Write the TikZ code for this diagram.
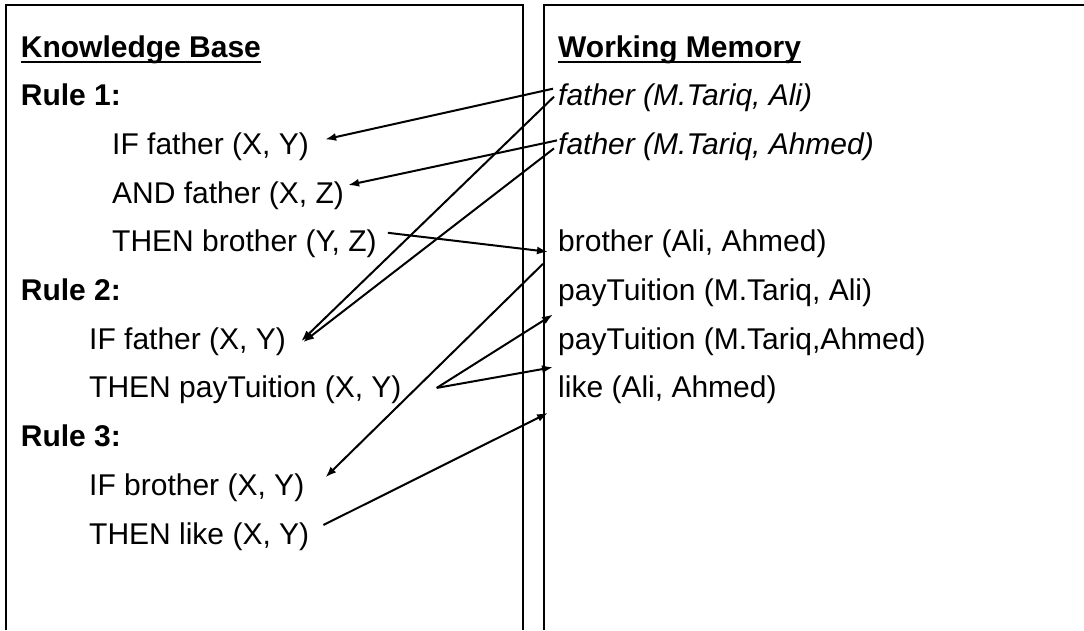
\documentclass[tikz,border=0pt]{standalone}
\usepackage{fontspec}
\setmainfont{Liberation Sans}
\usetikzlibrary{arrows.meta}
\tikzset{%
		rahmen/.style={draw,line width=2pt},
		zeile/.style={anchor=base west,inner sep=0pt,font=\fontsize{30}{36}\selectfont},
		kopf/.style={zeile,font=\fontsize{30}{36}\selectfont\bfseries},
		fakt/.style={zeile,font=\fontsize{30}{36}\selectfont\itshape},
		strich/.style={draw,line width=2.4pt},
		pfeil/.style={draw,line width=2pt,-{Latex[length=11pt,width=8pt]}}
	}
\begin{document}
\begin{tikzpicture}[x=1pt,y=-1pt]
      \useasboundingbox (0,0) rectangle (1084,630);
      % Knowledge Base
      \begin{scope}
        \draw[rahmen] (6,630) -- (6,5) -- (523,5) -- (523,630);
        \node[kopf] (kb) at (20.7,57) {Knowledge Base};
        \draw[strich] ([yshift=-5pt]kb.base west) -- ([yshift=-5pt]kb.base east);
        \node[kopf] (r1) at (20.7,105.7) {Rule 1:};
        \node[zeile] (r1a) at (112,154.4) {IF father (X, Y)};
        \node[zeile] (r1b) at (112,203.1) {AND father (X, Z)};
        \node[zeile] (r1c) at (112,251.8) {THEN brother (Y, Z)};
        \node[kopf] (r2) at (20.7,300.5) {Rule 2:};
        \node[zeile] (r2a) at (89,349.2) {IF father (X, Y)};
        \node[zeile] (r2b) at (89,397.9) {THEN payTuition (X, Y)};
        \node[kopf] (r3) at (20.7,446.6) {Rule 3:};
        \node[zeile] (r3a) at (89,495.3) {IF brother (X, Y)};
        \node[zeile] (r3b) at (89,544) {THEN like (X, Y)};
      \end{scope}
      % Working Memory
      \begin{scope}
        \draw[rahmen] (544,630) -- (544,5) -- (1084,5);
        \node[kopf] (wm) at (558,57) {Working Memory};
        \draw[strich] ([yshift=-5pt]wm.base west) -- ([yshift=-5pt]wm.base east);
        \node[fakt] (f1) at (558,105.7) {father (M.Tariq, Ali)};
        \node[fakt] (f2) at (558,154.4) {father (M.Tariq, Ahmed)};
        \node[zeile] (b1) at (558,251.8) {brother (Ali, Ahmed)};
        \node[zeile] (p1) at (558,300.5) {payTuition (M.Tariq, Ali)};
        \node[zeile] (p2) at (558,349.2) {payTuition (M.Tariq,Ahmed)};
        \node[zeile] (l1) at (558,397.9) {like (Ali, Ahmed)};
      \end{scope}
      % Pfeile
      \draw[pfeil] ([shift={(-5,-17)}]f1.base west) -- ([shift={(16,-15)}]r1a.base east);
      \draw[pfeil] ([shift={(-1,-14)}]f2.base west) -- ([shift={(4,-18)}]r1b.base east);
      \draw[pfeil] ([shift={(-4,-9)}]f1.base west) -- ([shift={(15,-8)}]r2a.base east);
      \draw[pfeil] ([shift={(-4,-6)}]f2.base west) -- ([shift={(17,-7)}]r2a.base east);
      \draw[pfeil] ([shift={(11,-19)}]r1c.base east) -- ([shift={(-10,0)}]b1.base west);
      \draw[pfeil] ([shift={(-15,12)}]b1.base west) -- ([shift={(21,-18)}]r3a.base east);
      \draw[pfeil] ([shift={(35,-10)}]r2b.base east) -- ([shift={(-5,14)}]p1.base west);
      \draw[pfeil] ([shift={(35,-10)}]r2b.base east) -- ([shift={(-5,18)}]p2.base west);
      \draw[pfeil] ([shift={(14,-19)}]r3b.base east) -- ([shift={(-10,15)}]l1.base west);
\end{tikzpicture}
\end{document}
